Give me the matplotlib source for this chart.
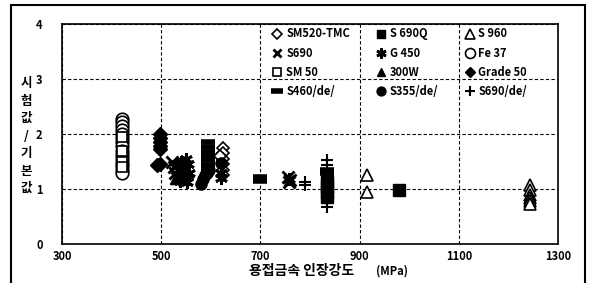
import matplotlib.pyplot as plt
from matplotlib.patches import Rectangle

plt.rcParams['font.family'] = ['Noto Sans CJK KR', 'DejaVu Sans']
plt.rcParams['font.weight'] = 'bold'

# data (x: 용접금속 인장강도 MPa, y: 시험값/기본값)
sm520_x = [624, 624, 624, 624, 624, 624, 618]
sm520_y = [1.75, 1.65, 1.55, 1.45, 1.35, 1.25, 1.6]
s690q_x = [835, 835, 835, 835, 980]
s690q_y = [1.15, 1.05, 0.95, 0.85, 0.98]
s960_x = [915, 915, 1243, 1243, 1243, 1243, 1243, 1243]
s960_y = [1.25, 0.95, 1.07, 0.98, 0.9, 0.84, 0.78, 0.72]
s690_x = [522, 527, 532, 525, 755, 760, 758]
s690_y = [1.5, 1.3, 1.2, 1.4, 1.22, 1.17, 1.12]
g450_x = [535, 540, 545, 550, 555, 540, 548, 556, 538, 552, 757, 620, 620]
g450_y = [1.45, 1.5, 1.35, 1.55, 1.45, 1.25, 1.2, 1.3, 1.15, 1.12, 1.18, 1.3, 1.2]
fe37_x = [420] * 15
fe37_y = [2.28, 2.22, 2.15, 2.08, 2.0, 1.92, 1.85, 1.78, 1.7, 1.62, 1.55, 1.48, 1.42, 1.35, 1.3]
grade50_x = [497, 497, 497, 497, 497, 492, 498]
grade50_y = [2.0, 1.92, 1.85, 1.78, 1.72, 1.43, 1.45]
sm50_x = [420, 420, 420, 420]
sm50_y = [1.95, 1.7, 1.5, 1.4]
w300_x = [530, 538, 545, 552, 535, 548]
w300_y = [1.2, 1.25, 1.18, 1.3, 1.35, 1.4]
s460_x = [594, 594, 594, 594, 594, 594, 594, 700, 700, 835, 835]
s460_y = [1.85, 1.76, 1.68, 1.6, 1.52, 1.44, 1.36, 1.22, 1.15, 1.35, 1.29]
s355_x = [580, 584, 588, 592, 596, 620, 835, 835]
s355_y = [1.1, 1.18, 1.25, 1.3, 1.35, 1.48, 1.0, 0.9]
s690de_x = [790, 790, 835, 835, 835, 835]
s690de_y = [1.12, 1.07, 1.53, 1.44, 0.75, 0.68]

fig = plt.figure(figsize=(5.91, 2.83), dpi=100)
ax = fig.add_axes([62 / 591, 39 / 283, 496 / 591, 220 / 283])

k = dict(linestyle='none', color='black')
h = {}
h['SM520-TMC'], = ax.plot(sm520_x, sm520_y, marker='D', ms=6, mfc='white', mew=1.2, **k)
h['S 690Q'], = ax.plot(s690q_x, s690q_y, marker='s', ms=8, **k)
h['S 960'], = ax.plot(s960_x, s960_y, marker='^', ms=9, mfc='white', mew=1.2, **k)
h['S690'], = ax.plot(s690_x, s690_y, marker='x', ms=8, mew=2, **k)
h['G 450'], = ax.plot(g450_x, g450_y, marker=(6, 2, 0), ms=9, mew=2, **k)
h['Fe 37'], = ax.plot(fe37_x, fe37_y, marker='o', ms=9, mfc='white', mew=1.2, **k)
h['Grade 50'], = ax.plot(grade50_x, grade50_y, marker='D', ms=7, **k)
h['SM 50'], = ax.plot(sm50_x, sm50_y, marker='s', ms=7, mfc='white', mew=1.2, **k)
h['300W'], = ax.plot(w300_x, w300_y, marker='^', ms=8, **k)
h['S460/de/'], = ax.plot(s460_x, s460_y, marker='_', ms=10, mew=4, **k)
h['S355/de/'], = ax.plot(s355_x, s355_y, marker='o', ms=8, **k)
h['S690/de/'], = ax.plot(s690de_x, s690de_y, marker='+', ms=9, mew=1.5, **k)

ax.set_xlim(300, 1300)
ax.set_ylim(0, 4)
ax.set_xticks([300, 500, 700, 900, 1100, 1300])
ax.set_yticks([0, 1, 2, 3, 4])
ax.tick_params(length=0, labelsize=8, pad=4)
ax.tick_params(axis='y', pad=14)
ax.grid(True, color='black', linestyle=(0, (3, 2)), linewidth=0.8)
for s in ax.spines.values():
    s.set_linewidth(1.2)

order = ['SM520-TMC', 'S690', 'SM 50', 'S460/de/',
         'S 690Q', 'G 450', '300W', 'S355/de/',
         'S 960', 'Fe 37', 'Grade 50', 'S690/de/']
leg = ax.legend([h[n] for n in order], order, ncol=3, frameon=False,
                loc='upper left', bbox_to_anchor=(0.405, 1.03),
                fontsize=8, markerscale=0.8, handlelength=0.8,
                handletextpad=0.4, columnspacing=2.4, labelspacing=0.55)

# x axis title: Korean part plus smaller unit
fig.text(302 / 591, 1 - 275 / 283, '용접금속 인장강도', fontsize=10,
         fontweight='bold', ha='center', va='baseline')
fig.text(392 / 591, 1 - 275 / 283, '(MPa)', fontsize=8,
         fontweight='bold', ha='center', va='baseline')
fig.text(26 / 591, 1 - 136 / 283, '시\n험\n값\n/\n기\n본\n값', fontsize=9,
         fontweight='bold', ha='center', va='center', linespacing=1.45)

fig.patches.append(Rectangle((11 / 591, -0.02), 574 / 591, 0.02 + 278 / 283,
                             transform=fig.transFigure, fill=False,
                             edgecolor='black', linewidth=1.5))

plt.savefig('out.png', dpi=100)
